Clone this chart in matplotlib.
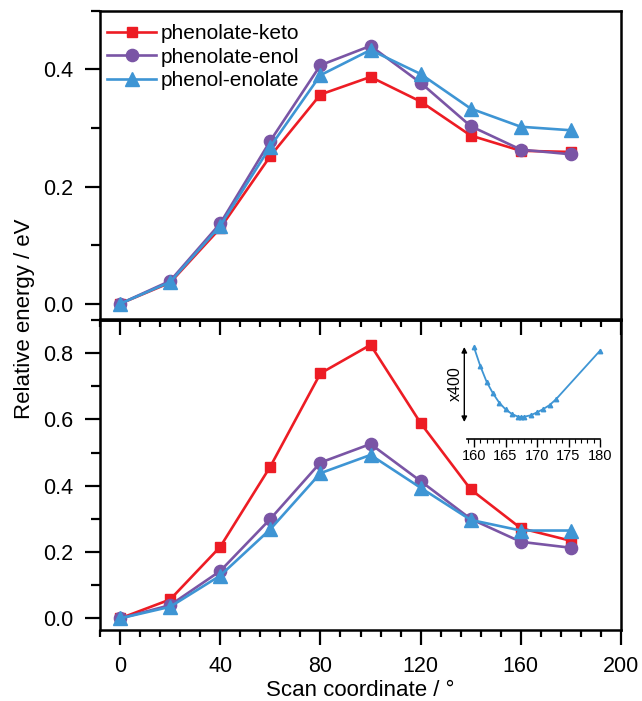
import matplotlib
matplotlib.use("Agg")
import matplotlib.pyplot as plt
from matplotlib.ticker import MultipleLocator, FormatStrFormatter

plt.rcParams['font.family'] = ['Liberation Sans', 'DejaVu Sans']

scan = [0, 20, 40, 60, 80, 100, 120, 140, 160, 180]
series_names = ["phenolate-keto", "phenolate-enol", "phenol-enolate"]

top_keto = [0.0, 0.036, 0.129, 0.252, 0.357, 0.387, 0.345, 0.287, 0.261, 0.259]
top_enol = [0.0, 0.039, 0.137, 0.278, 0.407, 0.440, 0.377, 0.303, 0.263, 0.255]
top_enolate = [0.0, 0.037, 0.133, 0.268, 0.390, 0.433, 0.392, 0.333, 0.302, 0.296]

bot_keto = [0.0, 0.057, 0.216, 0.458, 0.739, 0.825, 0.589, 0.389, 0.272, 0.234]
bot_enol = [0.0, 0.040, 0.143, 0.300, 0.470, 0.526, 0.414, 0.300, 0.231, 0.213]
bot_enolate = [0.0, 0.035, 0.129, 0.269, 0.438, 0.493, 0.394, 0.297, 0.265, 0.265]

inset_x = [160, 161, 162, 163, 164, 165, 166, 167, 167.5, 168, 169, 170, 171, 172, 173, 180]
inset_e = [0.525, 0.384, 0.266, 0.179, 0.108, 0.058, 0.023, 0.002, 0.0, 0.002, 0.013, 0.035,
           0.060, 0.090, 0.133, 0.500]

colors = ['#ED1C24', '#7A55A5', '#3E95D4']
markers = ['s', 'o', '^']
msizes = [7.8, 8.8, 9.6]

W, H = 642, 701
fig = plt.figure(figsize=(W / 100, H / 100), dpi=100)

L, R = 100 / W, 621 / W
ax_top = fig.add_axes([L, (H - 319) / H, R - L, (319 - 10.7) / H])
ax_bot = fig.add_axes([L, (H - 630) / H, R - L, (630 - 320) / H])

lw_sp = 1.8
for ax in (ax_top, ax_bot):
    for s in ax.spines.values():
        s.set_linewidth(lw_sp)
    ax.set_xlim(-8, 200)
    ax.xaxis.set_major_locator(MultipleLocator(40))
    ax.xaxis.set_minor_locator(MultipleLocator(8))
    ax.tick_params(axis='y', which='major', direction='out', length=11, width=1.6,
                   labelsize=15.5, pad=8, right=False)
    ax.tick_params(axis='y', which='minor', direction='out', length=6.5, width=1.6, right=False)
    ax.yaxis.set_major_locator(MultipleLocator(0.2))
    ax.yaxis.set_minor_locator(MultipleLocator(0.1))
    ax.yaxis.set_major_formatter(FormatStrFormatter('%.1f'))

top_series = [top_keto, top_enol, top_enolate]
bot_series = [bot_keto, bot_enol, bot_enolate]
for vals, name, c, m, ms in zip(top_series, series_names, colors, markers, msizes):
    ax_top.plot(scan, vals, color=c, marker=m, markersize=ms, lw=1.9, label=name, clip_on=False)
for vals, c, m, ms in zip(bot_series, colors, markers, msizes):
    ax_bot.plot(scan, vals, color=c, marker=m, markersize=ms, lw=1.9, clip_on=False)

ax_top.set_ylim(-0.026, 0.5)
ax_top.tick_params(axis='x', which='both', bottom=False, top=False, labelbottom=False)

ax_bot.set_ylim(-0.035, 0.9)
ax_bot.tick_params(axis='x', which='major', direction='out', length=11, width=1.6,
                   labelsize=15.5, pad=8, top=False)
ax_bot.tick_params(axis='x', which='minor', direction='out', length=5, width=1.6, top=False)
ax_bot.set_xlabel("Scan coordinate / °", fontsize=16, labelpad=2)

# inward ticks on the top edge of the lower panel
sec = ax_bot.secondary_xaxis('top')
sec.xaxis.set_major_locator(MultipleLocator(40))
sec.xaxis.set_minor_locator(MultipleLocator(8))
sec.tick_params(axis='x', which='major', direction='in', length=11, width=1.6, labeltop=False)
sec.tick_params(axis='x', which='minor', direction='in', length=5, width=1.6)
sec.spines['top'].set_linewidth(lw_sp)

leg = ax_top.legend(loc='upper left', bbox_to_anchor=(-0.004, 0.987), frameon=False, fontsize=15,
                    handlelength=2.35, handletextpad=0.22, labelspacing=0.22, borderaxespad=0.2,
                    borderpad=0.25)

fig.text(25 / W, 1 - 319 / H, "Relative energy / eV", rotation=90, ha='center', va='center',
         fontsize=16)

# inset
iL, iR = 466.7 / W, 600 / W
iB, iT = (H - 439) / H, (H - 345) / H
axi = fig.add_axes([iL, iB, iR - iL, iT - iB])
axi.patch.set_alpha(0)
for k in ('left', 'right', 'top'):
    axi.spines[k].set_visible(False)
axi.spines['bottom'].set_linewidth(1.2)
axi.plot(inset_x, inset_e, color=colors[2], lw=1.3, marker='^', markersize=3.2, clip_on=False)
axi.set_xlim(158.84, 180)
axi.set_ylim(-0.166, 0.543)
axi.set_yticks([])
axi.xaxis.set_major_locator(MultipleLocator(5))
axi.xaxis.set_minor_locator(MultipleLocator(1))
axi.tick_params(axis='x', which='major', direction='out', length=5.5, width=1.0, labelsize=10.5,
                pad=2)
axi.tick_params(axis='x', which='minor', direction='out', length=3, width=0.8)
axi.annotate('', xy=(158.46, -0.038), xytext=(158.46, 0.528), xycoords='data',
             arrowprops=dict(arrowstyle='<|-|>', lw=1.0, color='black', mutation_scale=8,
                             shrinkA=0, shrinkB=0), annotation_clip=False)
axi.text(157.1, 0.249, "x400", rotation=90, ha='center', va='center', fontsize=11.5,
         clip_on=False)

fig.savefig("out.png", dpi=100)
